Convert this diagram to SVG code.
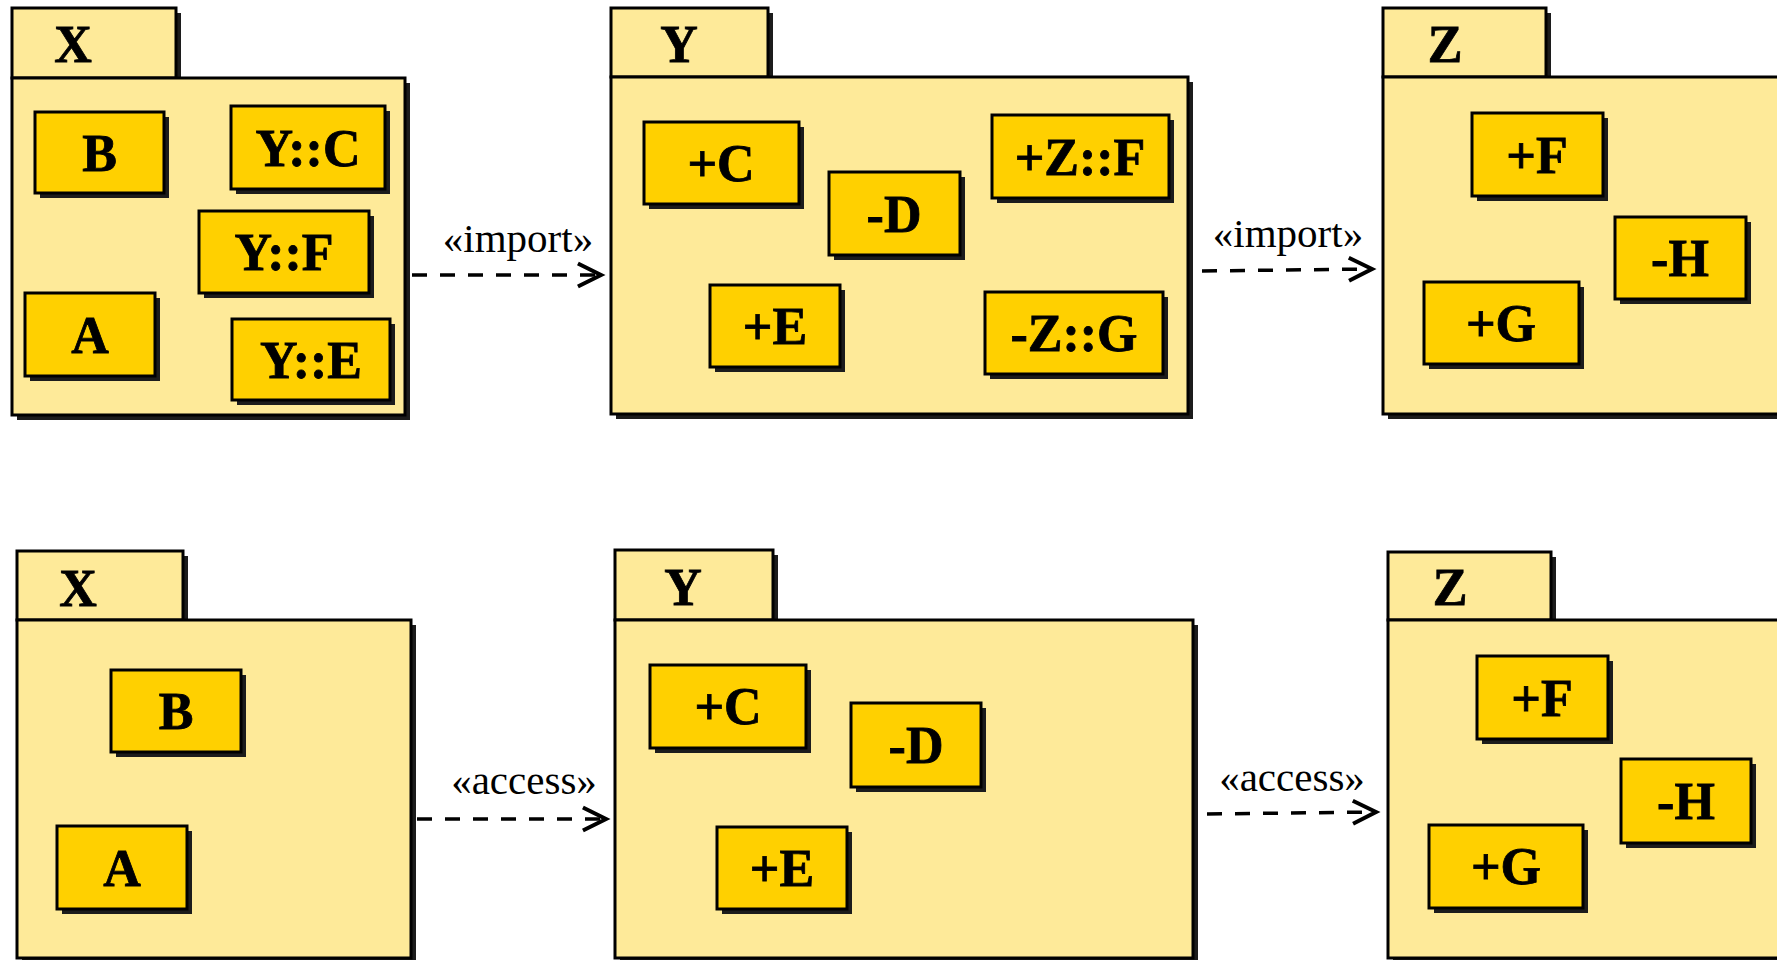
<svg xmlns="http://www.w3.org/2000/svg" width="1777" height="960" viewBox="0 0 1777 960">
<style>
.sh{fill:#1c1c1c}
.pk{fill:#FEEA99;stroke:#000;stroke-width:3}
.bx{fill:#FFD000;stroke:#000;stroke-width:3}
.pt{font-family:"Liberation Serif","Times New Roman",serif;font-weight:bold;font-size:52px;fill:#000;stroke:#000;stroke-width:0.8;text-anchor:middle}
.lb{font-family:"Liberation Serif","Times New Roman",serif;font-size:41px;fill:#000;text-anchor:middle}
.dep{fill:none;stroke:#000;stroke-width:3.5;stroke-dasharray:15,13}
</style>
<defs>
<marker id="open" markerUnits="userSpaceOnUse" markerWidth="30" markerHeight="30" viewBox="-2 -2 26 26" refX="20" refY="10" orient="auto">
<path d="M0,0 L20,10 L0,20" fill="none" stroke="#000" stroke-width="3.5"/>
</marker>
</defs>
<rect width="1777" height="960" fill="#fff"/>

<!-- Top X -->
<g id="pkg-x-top">
<rect class="sh" x="17" y="13" width="164" height="69"/>
<rect class="sh" x="17" y="83" width="393" height="337"/>
<rect class="pk" x="12" y="8" width="164" height="70"/>
<rect class="pk" x="12" y="78" width="393" height="337"/>
<text class="pt" x="73" y="62">X</text>
</g>
<g id="x-top-B"><rect class="sh" x="40" y="117" width="129" height="81"/><rect class="bx" x="35" y="112" width="129" height="81"/><text class="pt" x="99.5" y="171">B</text></g>
<g id="x-top-YC"><rect class="sh" x="236" y="111" width="154" height="83"/><rect class="bx" x="231" y="106" width="154" height="83"/><text class="pt" x="308" y="166">Y::C</text></g>
<g id="x-top-YF"><rect class="sh" x="204" y="216" width="170" height="82"/><rect class="bx" x="199" y="211" width="170" height="82"/><text class="pt" x="284" y="270">Y::F</text></g>
<g id="x-top-A"><rect class="sh" x="30" y="298" width="130" height="83"/><rect class="bx" x="25" y="293" width="130" height="83"/><text class="pt" x="90" y="353">A</text></g>
<g id="x-top-YE"><rect class="sh" x="237" y="324" width="158" height="81"/><rect class="bx" x="232" y="319" width="158" height="81"/><text class="pt" x="311" y="378">Y::E</text></g>

<!-- Top Y -->
<g id="pkg-y-top">
<rect class="sh" x="616" y="13" width="157" height="69"/>
<rect class="sh" x="616" y="82" width="577" height="337"/>
<rect class="pk" x="611" y="8" width="157" height="69"/>
<rect class="pk" x="611" y="77" width="577" height="337"/>
<text class="pt" x="679" y="62">Y</text>
</g>
<g id="y-top-C"><rect class="sh" x="649" y="127" width="155" height="82"/><rect class="bx" x="644" y="122" width="155" height="82"/><text class="pt" x="721" y="181">+C</text></g>
<g id="y-top-D"><rect class="sh" x="834" y="177" width="131" height="83"/><rect class="bx" x="829" y="172" width="131" height="83"/><text class="pt" x="894" y="232">-D</text></g>
<g id="y-top-ZF"><rect class="sh" x="997" y="120" width="177" height="83"/><rect class="bx" x="992" y="115" width="177" height="83"/><text class="pt" x="1080" y="175">+Z::F</text></g>
<g id="y-top-E"><rect class="sh" x="715" y="290" width="130" height="82"/><rect class="bx" x="710" y="285" width="130" height="82"/><text class="pt" x="775" y="344">+E</text></g>
<g id="y-top-ZG"><rect class="sh" x="990" y="297" width="178" height="82"/><rect class="bx" x="985" y="292" width="178" height="82"/><text class="pt" x="1074" y="351">-Z::G</text></g>

<!-- Top Z -->
<g id="pkg-z-top">
<rect class="sh" x="1388" y="13" width="163" height="69"/>
<rect class="sh" x="1388" y="82" width="420" height="337"/>
<rect class="pk" x="1383" y="8" width="163" height="69"/>
<rect class="pk" x="1383" y="77" width="420" height="337"/>
<text class="pt" x="1445" y="62">Z</text>
</g>
<g id="z-top-F"><rect class="sh" x="1477" y="118" width="131" height="83"/><rect class="bx" x="1472" y="113" width="131" height="83"/><text class="pt" x="1537" y="173">+F</text></g>
<g id="z-top-H"><rect class="sh" x="1620" y="222" width="131" height="82"/><rect class="bx" x="1615" y="217" width="131" height="82"/><text class="pt" x="1680" y="276">-H</text></g>
<g id="z-top-G"><rect class="sh" x="1429" y="287" width="155" height="82"/><rect class="bx" x="1424" y="282" width="155" height="82"/><text class="pt" x="1501" y="341">+G</text></g>

<!-- Bottom X -->
<g id="pkg-x-bot">
<rect class="sh" x="22" y="556" width="166" height="69"/>
<rect class="sh" x="22" y="625" width="394" height="340"/>
<rect class="pk" x="17" y="551" width="166" height="69"/>
<rect class="pk" x="17" y="620" width="394" height="338"/>
<text class="pt" x="78" y="606">X</text>
</g>
<g id="x-bot-B"><rect class="sh" x="116" y="675" width="130" height="82"/><rect class="bx" x="111" y="670" width="130" height="82"/><text class="pt" x="176" y="729">B</text></g>
<g id="x-bot-A"><rect class="sh" x="62" y="831" width="130" height="83"/><rect class="bx" x="57" y="826" width="130" height="83"/><text class="pt" x="122" y="886">A</text></g>

<!-- Bottom Y -->
<g id="pkg-y-bot">
<rect class="sh" x="620" y="555" width="158" height="69"/>
<rect class="sh" x="620" y="625" width="578" height="340"/>
<rect class="pk" x="615" y="550" width="158" height="70"/>
<rect class="pk" x="615" y="620" width="578" height="338"/>
<text class="pt" x="683" y="605">Y</text>
</g>
<g id="y-bot-C"><rect class="sh" x="655" y="670" width="156" height="83"/><rect class="bx" x="650" y="665" width="156" height="83"/><text class="pt" x="728" y="724">+C</text></g>
<g id="y-bot-D"><rect class="sh" x="856" y="708" width="130" height="84"/><rect class="bx" x="851" y="703" width="130" height="84"/><text class="pt" x="916" y="763">-D</text></g>
<g id="y-bot-E"><rect class="sh" x="722" y="832" width="130" height="82"/><rect class="bx" x="717" y="827" width="130" height="82"/><text class="pt" x="782" y="886">+E</text></g>

<!-- Bottom Z -->
<g id="pkg-z-bot">
<rect class="sh" x="1393" y="557" width="163" height="68"/>
<rect class="sh" x="1393" y="625" width="420" height="340"/>
<rect class="pk" x="1388" y="552" width="163" height="68"/>
<rect class="pk" x="1388" y="620" width="420" height="338"/>
<text class="pt" x="1450" y="605">Z</text>
</g>
<g id="z-bot-F"><rect class="sh" x="1482" y="661" width="131" height="83"/><rect class="bx" x="1477" y="656" width="131" height="83"/><text class="pt" x="1542" y="716">+F</text></g>
<g id="z-bot-H"><rect class="sh" x="1626" y="764" width="130" height="84"/><rect class="bx" x="1621" y="759" width="130" height="84"/><text class="pt" x="1686" y="819">-H</text></g>
<g id="z-bot-G"><rect class="sh" x="1434" y="830" width="154" height="83"/><rect class="bx" x="1429" y="825" width="154" height="83"/><text class="pt" x="1506" y="884">+G</text></g>

<!-- Connectors -->
<g id="connectors">
<line class="dep" x1="412" y1="275" x2="601" y2="275" marker-end="url(#open)"/>
<text class="lb" x="518" y="252">«import»</text>
<line class="dep" x1="1202" y1="271" x2="1372" y2="269" marker-end="url(#open)"/>
<text class="lb" x="1288" y="247">«import»</text>
<line class="dep" x1="417" y1="819" x2="606" y2="819" marker-end="url(#open)"/>
<text class="lb" x="524" y="794">«access»</text>
<line class="dep" x1="1207" y1="814" x2="1376" y2="812" marker-end="url(#open)"/>
<text class="lb" x="1292" y="791">«access»</text>
</g>
</svg>
